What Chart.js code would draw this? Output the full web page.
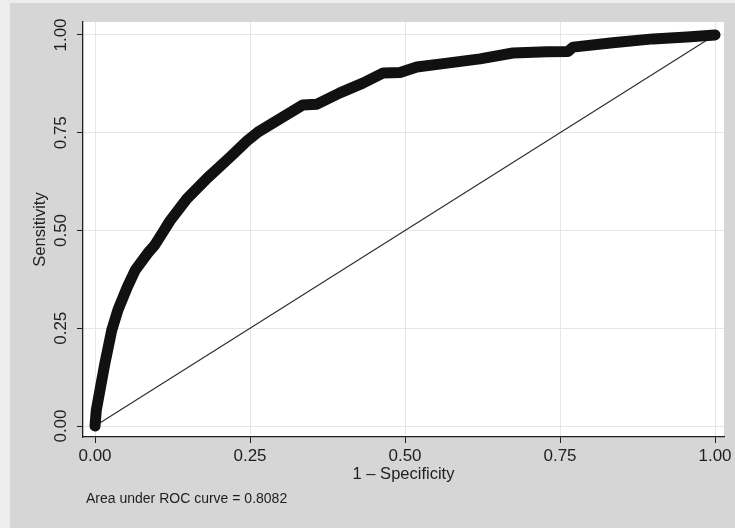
<!DOCTYPE html>
<html>
<head>
<meta charset="utf-8">
<script src="https://cdn.jsdelivr.net/npm/chart.js@4.4.1/dist/chart.umd.min.js"></script>
<style>
  html, body { margin: 0; padding: 0; background: #ededed; }
  canvas { display: block; }
</style>
</head>
<body>
<canvas id="roc" width="735" height="528"></canvas>
<script>
// ROC curve: false positive rate (1 - specificity) and sensitivity
const fpr = [0, 0.002, 0.008, 0.016, 0.027, 0.037, 0.052, 0.065, 0.085, 0.096, 0.108, 0.121, 0.148, 0.181,
             0.218, 0.245, 0.263, 0.287, 0.303, 0.335, 0.358, 0.395, 0.432, 0.465, 0.492, 0.519, 0.568,
             0.621, 0.674, 0.729, 0.763, 0.771, 0.835, 0.900, 0.955, 1];
const tpr = [0, 0.040, 0.092, 0.161, 0.245, 0.297, 0.355, 0.399, 0.442, 0.462, 0.492, 0.525, 0.581, 0.634,
             0.688, 0.729, 0.752, 0.775, 0.790, 0.821, 0.823, 0.852, 0.877, 0.903, 0.904, 0.918, 0.928,
             0.939, 0.954, 0.957, 0.958, 0.969, 0.980, 0.990, 0.995, 1];
// Chance line
const chance = [0, 1];
// Axis ticks
const tickValues = [0, 0.25, 0.5, 0.75, 1];
const tickLabels = ['0.00', '0.25', '0.50', '0.75', '1.00'];
const xTitle = '1 \u2013 Specificity';
const yTitle = 'Sensitivity';
const aucNote = 'Area under ROC curve = 0.8082';

const FONT = '"Liberation Sans", Arial, sans-serif';
const INK = '#1e1e1e';

const frame = {
  id: 'frame',
  beforeDraw(chart) {
    const { ctx, chartArea: a } = chart;
    ctx.save();
    ctx.fillStyle = '#ededed';
    ctx.fillRect(0, 0, chart.width, chart.height);
    ctx.fillStyle = '#d6d6d6';
    ctx.fillRect(10, 3, chart.width - 10, chart.height - 3);
    ctx.fillStyle = '#ffffff';
    ctx.fillRect(a.left, a.top, a.right - a.left, a.bottom - a.top);
    ctx.restore();
  },
  afterDraw(chart) {
    const { ctx, chartArea: a } = chart;
    const ys = chart.scales.y;
    ctx.save();
    ctx.fillStyle = INK;
    ctx.textAlign = 'center';
    ctx.textBaseline = 'middle';
    ctx.font = '17px ' + FONT;
    tickValues.forEach((v, i) => {
      ctx.save();
      ctx.translate(61.5, ys.getPixelForValue(v));
      ctx.rotate(-Math.PI / 2);
      ctx.fillText(tickLabels[i], 0, 0);
      ctx.restore();
    });
    ctx.font = '16.5px ' + FONT;
    ctx.save();
    ctx.translate(40.5, (a.top + a.bottom) / 2);
    ctx.rotate(-Math.PI / 2);
    ctx.fillText(yTitle, 0, 0);
    ctx.restore();
    ctx.textAlign = 'left';
    ctx.textBaseline = 'alphabetic';
    ctx.font = '14px ' + FONT;
    ctx.fillText(aucNote, 86, 503);
    ctx.restore();
  }
};

const fixedTicks = s => { s.ticks = tickValues.map(v => ({ value: v })); };

new Chart(document.getElementById('roc'), {
  type: 'scatter',
  data: {
    datasets: [
      {
        data: fpr.map((x, i) => ({ x, y: tpr[i] })),
        showLine: true,
        borderColor: '#111111',
        borderWidth: 11,
        borderJoinStyle: 'round',
        borderCapStyle: 'round',
        pointRadius: 0,
        tension: 0
      },
      {
        data: chance.map(v => ({ x: v, y: v })),
        showLine: true,
        borderColor: '#2a2a2a',
        borderWidth: 1.1,
        pointRadius: 0
      }
    ]
  },
  options: {
    responsive: false,
    animation: false,
    devicePixelRatio: 1,
    layout: { padding: { top: 22, right: 11, left: 0, bottom: 0 } },
    plugins: { legend: { display: false }, tooltip: { enabled: false } },
    scales: {
      x: {
        type: 'linear',
        min: -0.0194,
        max: 1.0145,
        afterBuildTicks: fixedTicks,
        afterFit: s => { s.height = 91; s.paddingLeft = 0; s.paddingRight = 0; },
        grid: { color: '#e6e6e6', lineWidth: 1, tickLength: 6, tickColor: INK, drawTicks: true },
        border: { color: INK, width: 1.3 },
        ticks: {
          font: { family: FONT, size: 17 },
          color: INK,
          padding: 3,
          maxRotation: 0,
          autoSkip: false,
          callback: v => tickLabels[tickValues.indexOf(v)]
        },
        title: {
          display: true,
          text: xTitle,
          color: INK,
          font: { family: FONT, size: 16.5 },
          padding: { top: 0, bottom: 44 }
        }
      },
      y: {
        type: 'linear',
        min: -0.0281,
        max: 1.0332,
        afterBuildTicks: fixedTicks,
        afterFit: s => { s.width = 83; s.paddingTop = 0; s.paddingBottom = 0; },
        grid: { color: '#e6e6e6', lineWidth: 1, tickLength: 6, tickColor: INK, drawTicks: true },
        border: { color: INK, width: 1.3 },
        ticks: { display: false }
      }
    }
  },
  plugins: [frame]
});
</script>
</body>
</html>
